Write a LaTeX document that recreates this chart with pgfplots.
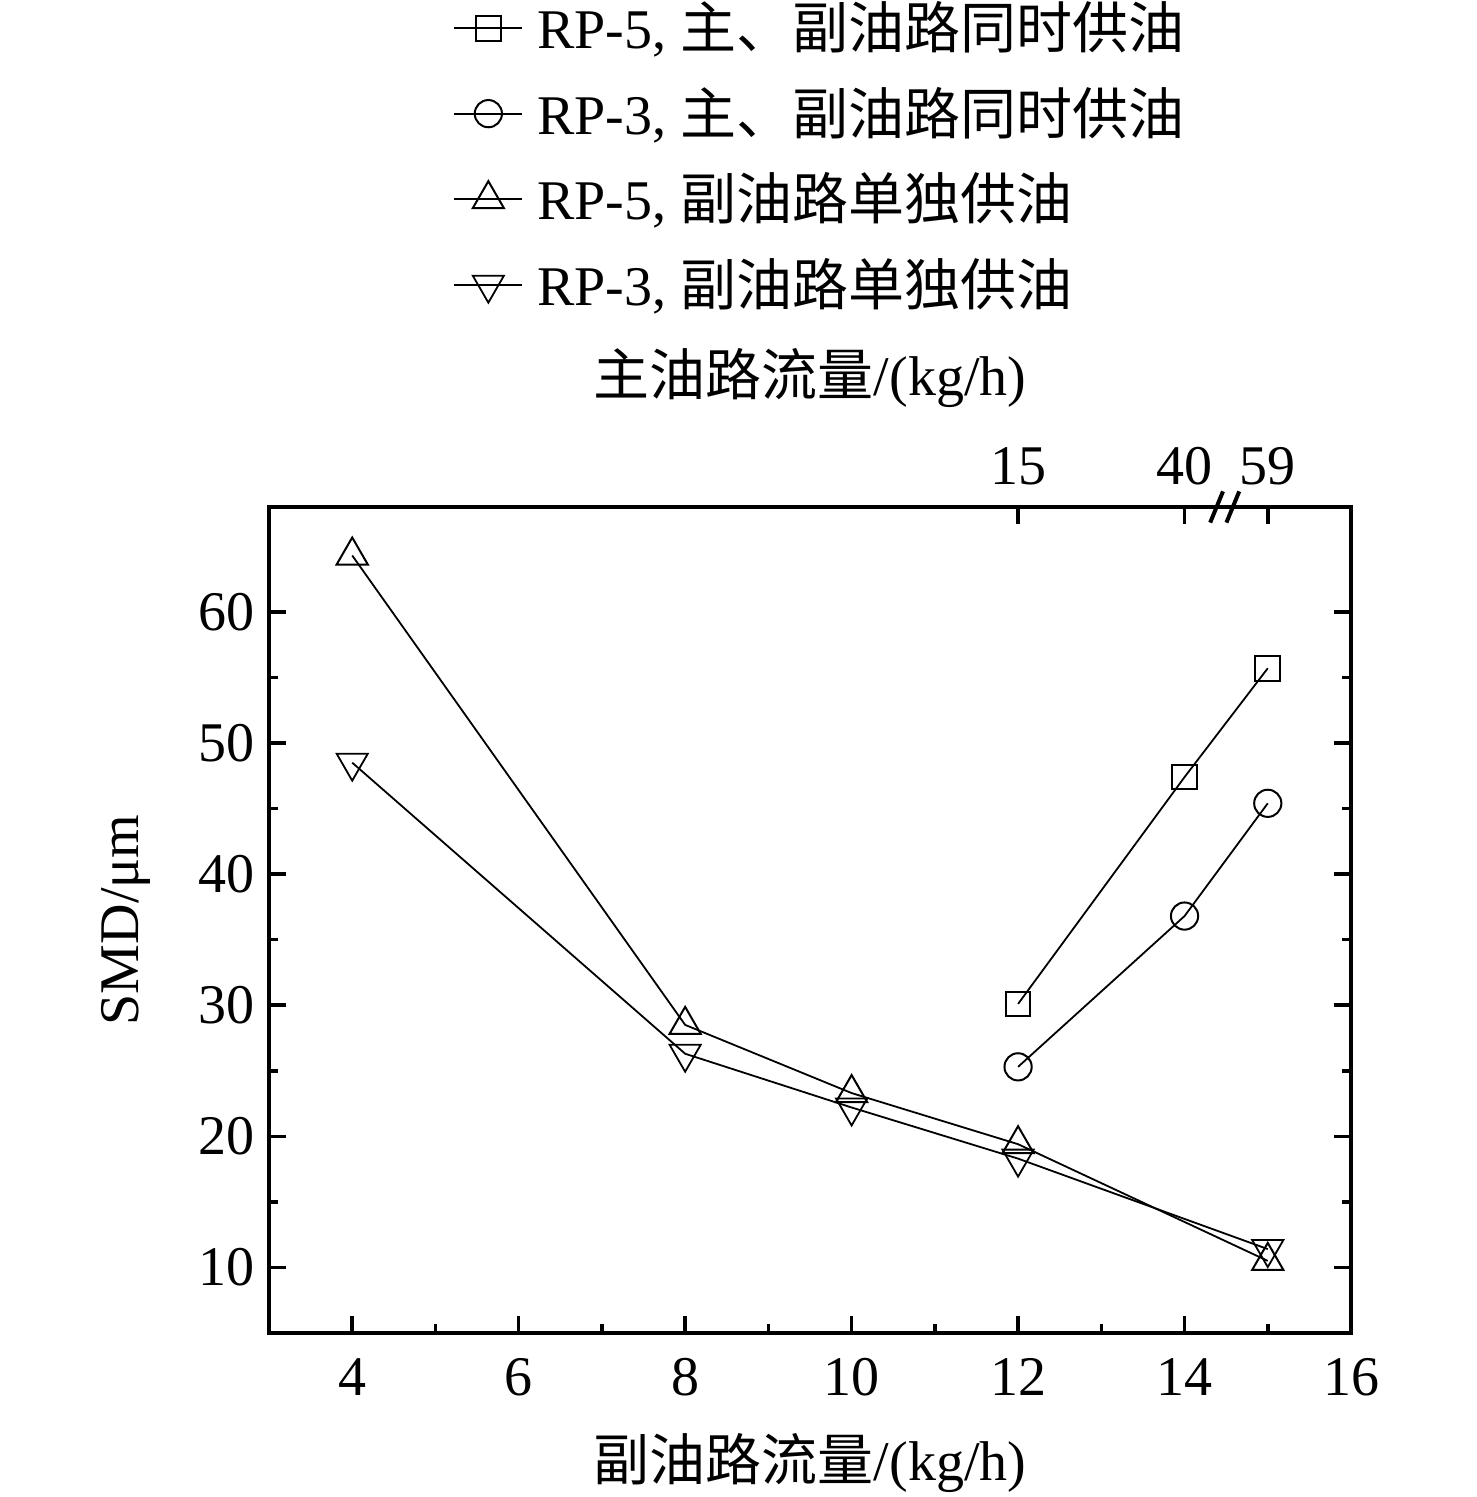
\documentclass[border=0pt]{standalone}
\usepackage{fontspec}
\setmainfont{Liberation Serif}
\newfontfamily\cjk{Noto Sans CJK SC}
\usepackage{pgfplots}
\pgfplotsset{compat=1.18}
\begin{document}
\begin{tikzpicture}[font=\fontsize{14pt}{17pt}\selectfont]
\useasboundingbox (-67.25pt,-41pt) rectangle (301.75pt,333.25pt);
\pgfplotsset{
  common/.style={
    at={(0,0)}, anchor=south west,
    scale only axis, width=270.5pt, height=206.5pt,
    xmin=3, xmax=16, ymin=5, ymax=68,
    tick align=inside,
    major tick length=4.2pt, minor tick length=2.2pt,
    every tick/.style={black, line width=0.9pt},
    axis line style={line width=1.1pt},
    /pgf/number format/assume math mode=true,
    tick label style={font=\fontsize{14pt}{17pt}\selectfont},
    label style={font=\fontsize{14pt}{17pt}\selectfont},
  },
  ser/.style={black, line width=0.45pt, mark options={solid, line width=0.5pt}},
}
\begin{axis}[common,
  xtick={4,6,8,10,12,14,16}, minor x tick num=1,
  ytick={10,20,30,40,50,60}, minor y tick num=1,
  xtick pos=left, ytick pos=both, yticklabel pos=left,
  xticklabel style={yshift=-2.8pt},
  xlabel={{\cjk 副油路流量}/(kg/h)},
  ylabel={SMD/μm},
  xlabel style={at={(axis description cs:0.5,-0.157)}, anchor=center},
  ylabel style={at={(axis description cs:-0.132,0.5)}, anchor=center},
  legend style={at={(axis description cs:0.1696,1.6225)}, anchor=north west,
    draw=none, fill=none, inner sep=0pt, row sep=4.1pt, column sep=1.5pt,
    font=\fontsize{14pt}{17pt}\selectfont},
  legend cell align=left,
]
\addplot[ser, mark=square, mark size=3.1pt] coordinates {(12,30.1)(14,47.4)(15,55.7)};
\addlegendentry{RP-5, {\cjk 主、副油路同时供油}}
\addplot[ser, mark=o, mark size=3.4pt] coordinates {(12,25.3)(14,36.8)(15,45.4)};
\addlegendentry{RP-3, {\cjk 主、副油路同时供油}}
\addplot[ser, mark=triangle, mark size=4.5pt] coordinates {(4,64.3)(8,28.5)(10,23.3)(12,19.4)(15,10.5)};
\addlegendentry{RP-5, {\cjk 副油路单独供油}}
\addplot[ser, mark=triangle, mark size=4.5pt, mark options={rotate=180}] coordinates {(4,48.5)(8,26.3)(10,22.2)(12,18.3)(15,11.4)};
\addlegendentry{RP-3, {\cjk 副油路单独供油}}
\end{axis}
\begin{axis}[common,
  axis x line*=top, axis y line=none,
  xtick={12,14,15}, xticklabels={15,40,59},
  xticklabel style={yshift=2pt},
  clip=false,
]
\addplot[draw=none, forget plot] coordinates {(12,30)};
\draw[line width=1pt] ([xshift=-1.6pt,yshift=-3.9pt]axis cs:14.385,68) -- ([xshift=1.6pt,yshift=3.9pt]axis cs:14.385,68);
\draw[line width=1pt] ([xshift=-1.6pt,yshift=-3.9pt]axis cs:14.58,68) -- ([xshift=1.6pt,yshift=3.9pt]axis cs:14.58,68);
\node[font=\fontsize{14pt}{17pt}\selectfont] at (axis description cs:0.5,1.156) {{\cjk 主油路流量}/(kg/h)};
\end{axis}
\end{tikzpicture}
\end{document}
